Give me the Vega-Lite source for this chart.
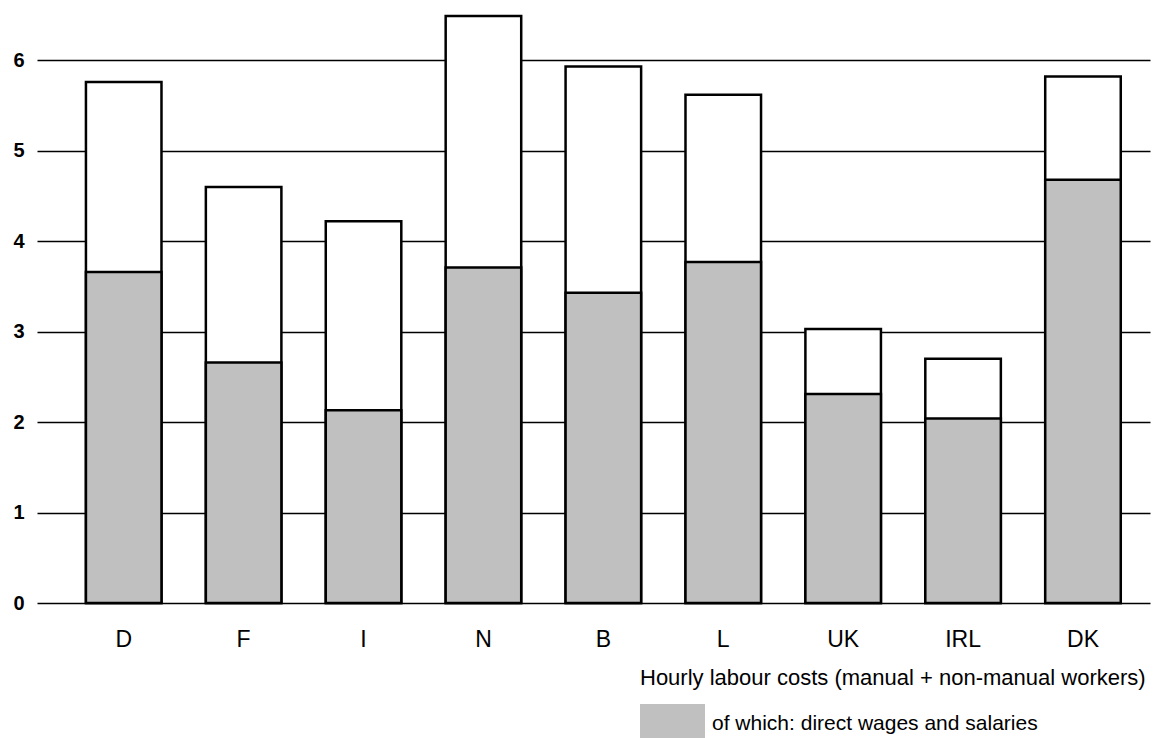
{
  "$schema": "https://vega.github.io/schema/vega-lite/v6.json",
  "autosize": {"type": "none"},
  "width": 1113,
  "height": 597,
  "padding": {"left": 37, "top": 6, "right": 18, "bottom": 135},
  "background": "white",
  "config": {"view": {"stroke": null}, "font": "Liberation Sans"},
  "data": {"values": [
    {"country": "D", "total": 5.76, "wages": 3.66},
    {"country": "F", "total": 4.60, "wages": 2.66},
    {"country": "I", "total": 4.22, "wages": 2.13},
    {"country": "N", "total": 6.49, "wages": 3.71},
    {"country": "B", "total": 5.93, "wages": 3.43},
    {"country": "L", "total": 5.62, "wages": 3.77},
    {"country": "UK", "total": 3.03, "wages": 2.31},
    {"country": "IRL", "total": 2.70, "wages": 2.04},
    {"country": "DK", "total": 5.82, "wages": 4.68}
  ]},
  "encoding": {
    "x": {
      "field": "country", "type": "nominal", "sort": null,
      "scale": {"paddingInner": 0.37, "paddingOuter": 0.326, "align": 0.626},
      "axis": {"title": null, "labelAngle": 0, "ticks": false, "domain": false, "labelFontSize": 23, "labelColor": "black", "labelPadding": 25, "labelFont": "Liberation Sans"}
    }
  },
  "layer": [
    {
      "mark": {"type": "bar", "fill": "white", "stroke": "black", "strokeWidth": 2.5},
      "encoding": {
        "y": {
          "field": "total", "type": "quantitative",
          "scale": {"domain": [0, 6.6], "nice": false},
          "axis": {"title": null, "values": [0, 1, 2, 3, 4, 5, 6], "format": "d", "ticks": false, "domain": false, "grid": true, "gridColor": "black", "gridWidth": 1.6, "gridOpacity": 1, "labelFontSize": 20, "labelFontWeight": "bold", "labelColor": "black", "labelPadding": 13, "labelFont": "Liberation Sans"}
        }
      }
    },
    {
      "mark": {"type": "bar", "stroke": "black", "strokeWidth": 2.5, "opacity": 1},
      "encoding": {
        "y": {"field": "wages", "type": "quantitative"},
        "color": {
          "datum": "of which: direct wages and salaries",
          "scale": {"range": ["#c0c0c0"]},
          "legend": {
            "orient": "none", "legendX": 603, "legendY": 662,
            "title": "Hourly labour costs (manual + non-manual workers)",
            "titleFontSize": 22, "titleFontWeight": "normal", "titleColor": "black", "titlePadding": 1, "titleFont": "Liberation Sans", "titleLimit": 800,
            "labelFontSize": 21, "labelColor": "black", "labelFont": "Liberation Sans", "labelOffset": 7, "labelLimit": 600,
            "symbolType": "M-1,-0.6H1V0.6H-1Z", "symbolSize": 4225, "symbolStrokeWidth": 0, "symbolOpacity": 1,
            "padding": 0
          }
        }
      }
    }
  ]
}
